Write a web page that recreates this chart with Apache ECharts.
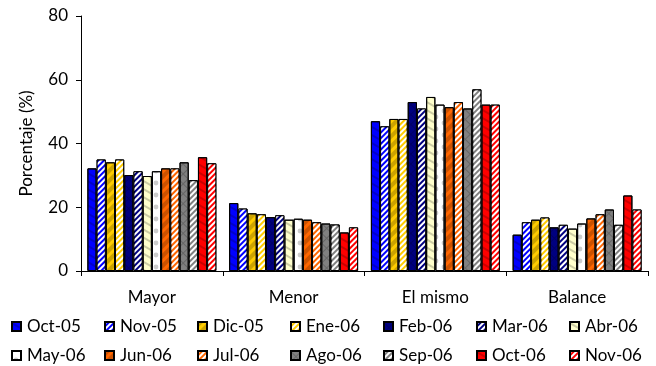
<!DOCTYPE html>
<html>
<head>
<meta charset="utf-8">
<script src="https://cdn.jsdelivr.net/npm/echarts@6/dist/echarts.min.js"></script>
<style>html,body{margin:0;padding:0;background:#fff}#c{width:656px;height:366px}</style>
</head>
<body>
<div id="c"></div>
<script>
const categories = ['Mayor', 'Menor', 'El mismo', 'Balance'];
const seriesNames = ['Oct-05','Nov-05','Dic-05','Ene-06','Feb-06','Mar-06','Abr-06','May-06','Jun-06','Jul-06','Ago-06','Sep-06','Oct-06','Nov-06'];
const oct05 = [32.2, 21.3, 47.0, 11.4];
const nov05 = [35.0, 19.6, 45.4, 15.3];
const dic05 = [34.1, 18.1, 47.7, 16.1];
const ene06 = [35.0, 17.8, 47.7, 16.8];
const feb06 = [30.1, 16.9, 53.0, 13.7];
const mar06 = [31.3, 17.5, 51.0, 14.5];
const abr06 = [29.8, 16.1, 54.6, 13.3];
const may06 = [31.3, 16.4, 52.2, 14.9];
const jun06 = [32.2, 16.1, 51.4, 16.5];
const jul06 = [32.2, 15.3, 53.0, 17.8];
const ago06 = [34.1, 14.9, 51.0, 19.3];
const sep06 = [28.5, 14.6, 57.0, 14.5];
const oct06 = [35.7, 12.1, 52.2, 23.7];
const nov06 = [33.8, 13.7, 52.2, 19.3];
const seriesValues = [oct05, nov05, dic05, ene06, feb06, mar06, abr06, may06, jun06, jul06, ago06, sep06, oct06, nov06];
const yTicks = [0, 20, 40, 60, 80];

const colors = ['#0000FF','#0000FF','#FFCC00','#FFCC00','#000080','#000080','#FFFFCC','#FFFFFF','#FF6600','#FF6600','#808080','#808080','#FF0000','#FF0000'];
const striped = [false,true,false,true,false,true,false,false,false,true,false,true,false,true];

const FONT = 'Lato';
const chart = echarts.init(document.getElementById('c'));

const series = seriesNames.map((name, i) => {
  const itemStyle = { color: colors[i], borderColor: '#000', borderWidth: 1 };
  if (striped[i]) {
    itemStyle.decal = { symbol: 'rect', color: '#FFFFFF', dashArrayX: [1, 0], dashArrayY: [2, 2], symbolSize: 1, rotation: -Math.PI / 4 };
  }
  return {
    name, type: 'bar', data: seriesValues[i], barGap: '0%', barCategoryGap: '9%',
    itemStyle, emphasis: { disabled: true }, animation: false
  };
});

const legends = seriesNames.map((name, i) => ({
  data: [name],
  left: 11 + 93 * (i % 7),
  top: i < 7 ? 318 : 347,
  padding: 0,
  icon: 'rect', itemWidth: 9, itemHeight: 9, itemGap: 0,
  selectedMode: false,
  textStyle: { fontFamily: FONT, fontSize: 17, color: '#000', padding: [0, 0, 0, 1] }
}));

chart.setOption({
  animation: false,
  aria: { enabled: true, decal: { show: true } },
  grid: { left: 81, right: 8, top: 16, bottom: 95 },
  legend: legends,
  xAxis: {
    type: 'category', data: categories,
    axisLine: { lineStyle: { color: '#000', width: 1 } },
    axisTick: { show: true, alignWithLabel: false, length: 5, lineStyle: { color: '#000' } },
    axisLabel: { fontFamily: FONT, fontSize: 17, color: '#000', margin: 18 }
  },
  yAxis: {
    type: 'value', min: yTicks[0], max: yTicks[yTicks.length - 1], interval: 20,
    name: 'Porcentaje (%)', nameLocation: 'middle', nameGap: 46,
    nameTextStyle: { fontFamily: FONT, fontSize: 17, color: '#000' },
    axisLine: { show: true, lineStyle: { color: '#000', width: 1 } },
    axisTick: { show: true, length: 5, lineStyle: { color: '#000' } },
    axisLabel: { fontFamily: FONT, fontSize: 17, color: '#000', margin: 13 },
    splitLine: { show: false }
  },
  series
});
</script>
</body>
</html>
